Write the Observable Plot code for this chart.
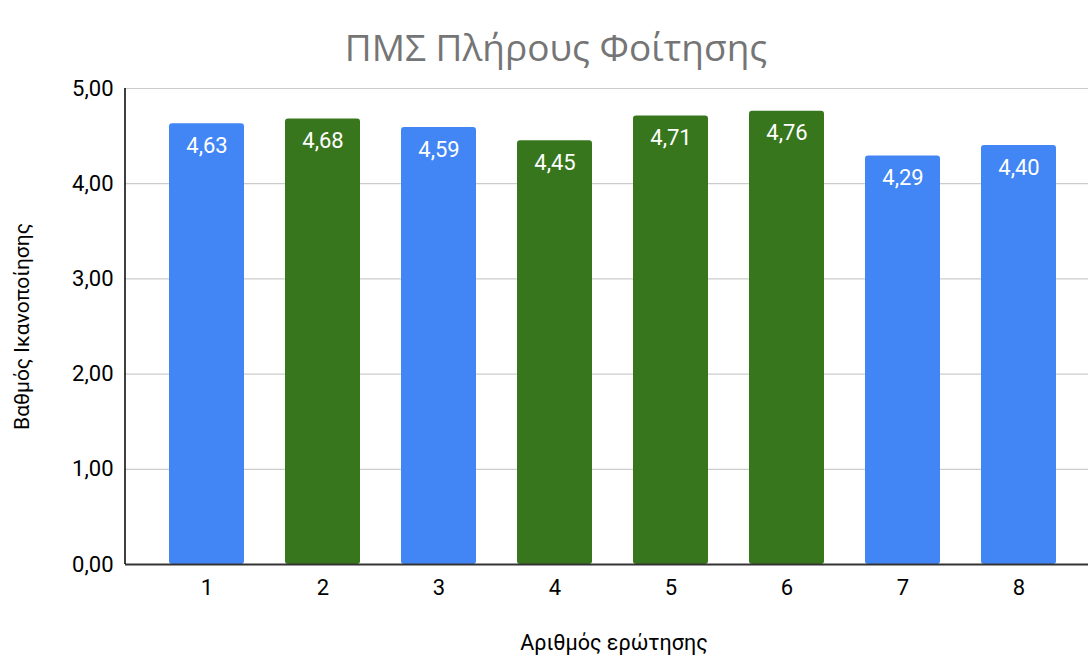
<!DOCTYPE html>
<html>
<head>
<meta charset="utf-8">
<script src="https://cdn.jsdelivr.net/npm/d3@7"></script>
<script src="https://cdn.jsdelivr.net/npm/@observablehq/plot@0.6"></script>
<style>
  html, body { margin: 0; padding: 0; background: #fff; }
</style>
</head>
<body>
<div id="chart"></div>
<script>
const titleText = "ΠΜΣ Πλήρους Φοίτησης";
const xLabel = "Αριθμός ερώτησης";
const yLabel = "Βαθμός Ικανοποίησης";
const questions = ["1", "2", "3", "4", "5", "6", "7", "8"];
const scores = [4.63, 4.68, 4.59, 4.45, 4.71, 4.76, 4.29, 4.40];
const barColors = ["#4285F4", "#38761D", "#4285F4", "#38761D", "#38761D", "#38761D", "#4285F4", "#4285F4"];
const yTicks = [0, 1, 2, 3, 4, 5];

const data = questions.map((q, i) => ({q, v: scores[i], c: barColors[i]}));
const fmt = d => d.toFixed(2).replace(".", ",");

// left axis line along the frame edge
function leftAxisLine(index, scales, values, dimensions) {
  const {marginLeft, marginTop, height, marginBottom} = dimensions;
  const line = document.createElementNS("http://www.w3.org/2000/svg", "line");
  line.setAttribute("x1", marginLeft);
  line.setAttribute("x2", marginLeft);
  line.setAttribute("y1", marginTop);
  line.setAttribute("y2", height - marginBottom);
  line.setAttribute("stroke", "#000");
  line.setAttribute("stroke-width", 1.5);
  return line;
}

const chart = Plot.plot({
  width: 1088,
  height: 657,
  marginTop: 88,
  marginBottom: 93,
  marginLeft: 125,
  marginRight: 0,
  style: {fontFamily: "Roboto, 'Liberation Sans', sans-serif", fontSize: "22px", color: "#000", background: "#fff"},
  x: {domain: questions, paddingInner: 0.35, paddingOuter: 0.175, insetLeft: 22, insetRight: 10},
  y: {domain: [0, 5]},
  marks: [
    Plot.gridY(yTicks, {stroke: "#cccccc", strokeOpacity: 1, strokeWidth: 1.2}),
    Plot.axisY(yTicks, {tickSize: 0, tickPadding: 12, tickFormat: fmt, fontSize: 22, label: null}),
    Plot.axisY(yTicks, {tickSize: 0, ticks: [], tickFormat: () => "", fontSize: 21, label: yLabel, labelAnchor: "center", labelArrow: "none", labelOffset: 111}),
    Plot.axisX({tickSize: 0, tickPadding: 15, fontSize: 22, label: null}),
    Plot.barY(data, {x: "q", y: "v", fill: "c", rx: 3}),
    Plot.text(data, {x: "q", y: "v", text: d => fmt(d.v), fill: "#fff", fontSize: 22, dy: 22}),
    Plot.ruleY([0], {stroke: "#333", strokeWidth: 2}),
    leftAxisLine,
    Plot.text([titleText], {frameAnchor: "top", dx: -51, dy: -54, fill: "#757575", fontSize: 37, fontFamily: "'Open Sans', sans-serif"}),
    Plot.text([xLabel], {frameAnchor: "bottom", lineAnchor: "middle", dx: 7, dy: 79, fontSize: 21.5, fill: "#000"})
  ]
});
document.getElementById("chart").appendChild(chart);
</script>
</body>
</html>
